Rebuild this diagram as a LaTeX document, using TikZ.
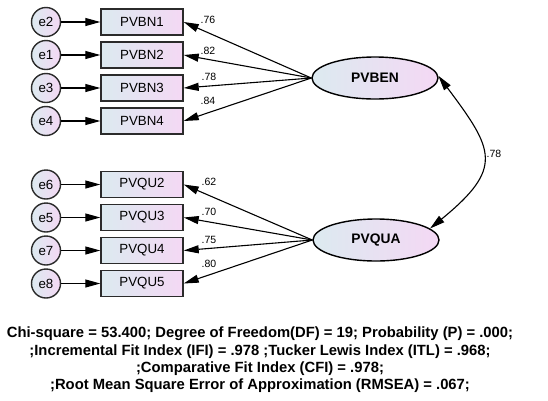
\documentclass[tikz,border=0pt]{standalone}
\usepackage{fontspec}
\setmainfont{Liberation Sans}
\usetikzlibrary{arrows.meta, shapes.geometric}
\definecolor{shadeleft}{HTML}{DCEAF0}
\definecolor{shaderight}{HTML}{F4D8F4}
\definecolor{edgegray}{HTML}{2B2B2B}

\begin{document}
\begin{tikzpicture}[x=1pt, y=-1pt, >={Triangle[length=15pt, width=8pt]}, line width=1.1pt,
  obsbox/.style={draw=edgegray, line width=1.4pt, left color=shadeleft, right color=shaderight,
    minimum width=82pt, minimum height=26pt, inner sep=0pt, font=\fontsize{13.3}{15}\selectfont},
  errcirc/.style={circle, draw=edgegray, line width=1.4pt, left color=shadeleft, right color=shaderight,
    minimum size=29pt, inner sep=0pt, font=\fontsize{13.3}{15}\selectfont},
  latent/.style={ellipse, draw=black, line width=1.4pt, left color=shadeleft, right color=shaderight,
    minimum width=126pt, minimum height=42pt, inner sep=0pt, font=\bfseries\fontsize{13.8}{15}\selectfont},
  loadlab/.style={font=\fontsize{10.5}{12}\selectfont, inner sep=0pt}]

% Canvas
\useasboundingbox (0,0) rectangle (548,400);

% Latent factors
\node[latent] (ben) at (375,78) {PVBEN};
\node[latent] (qua) at (376,240) {PVQUA};

% Indicators of PVBEN
\node[obsbox] (bn1) at (142,22) {PVBN1};
\node[obsbox] (bn2) at (142,55) {PVBN2};
\node[obsbox] (bn3) at (142,88) {PVBN3};
\node[obsbox] (bn4) at (142,121) {PVBN4};

% Indicators of PVQUA
\node[obsbox] (qu2) at (142,184.5) {PVQU2};
\node[obsbox] (qu3) at (142,217.5) {PVQU3};
\node[obsbox] (qu4) at (142,250.5) {PVQU4};
\node[obsbox] (qu5) at (142,283.5) {PVQU5};

% Error terms
\node[errcirc] (e2) at (46,22) {e2};
\node[errcirc] (e1) at (46,55) {e1};
\node[errcirc] (e3) at (46,88) {e3};
\node[errcirc] (e4) at (46,121) {e4};
\node[errcirc] (e6) at (46,184.5) {e6};
\node[errcirc] (e5) at (46,217.5) {e5};
\node[errcirc] (e7) at (46,250.5) {e7};
\node[errcirc] (e8) at (46,283.5) {e8};

% Error paths
\draw[->] (e2) -- (bn1);
\draw[->] (e1) -- (bn2);
\draw[->] (e3) -- (bn3);
\draw[->] (e4) -- (bn4);
\draw[->] (e6) -- (qu2);
\draw[->] (e5) -- (qu3);
\draw[->] (e7) -- (qu4);
\draw[->] (e8) -- (qu5);

% Factor loadings
\draw[->] (ben.west) -- (bn1.east);
\draw[->] (ben.west) -- (bn2.east);
\draw[->] (ben.west) -- (bn3.east);
\draw[->] (ben.west) -- (bn4.east);
\draw[->] (qua.west) -- (qu2.east);
\draw[->] (qua.west) -- (qu3.east);
\draw[->] (qua.west) -- (qu4.east);
\draw[->] (qua.west) -- (qu5.east);

% Loading estimates
\node[loadlab] (l76) at (208,20) {.76};
\node[loadlab] (l82) at (208,50.5) {.82};
\node[loadlab] (l78) at (209,77) {.78};
\node[loadlab] (l84) at (208,100.5) {.84};
\node[loadlab] (l62) at (209,182) {.62};
\node[loadlab] (l70) at (209,212) {.70};
\node[loadlab] (l75) at (209,240) {.75};
\node[loadlab] (l80) at (209,263.5) {.80};

% Factor covariance
\draw[<->] (ben.2) .. controls (494,150) and (504,168) .. (qua.12);
\node[loadlab] (r78) at (494,154) {.78};

% Fit indices
\node[font=\bfseries\fontsize{14.8}{17.3}\selectfont, align=center] (fitidx) at (260,360)
  {Chi-square = 53.400; Degree of Freedom(DF) = 19; Probability (P) = .000;\\
   ;Incremental Fit Index (IFI) = .978 ;Tucker Lewis Index (ITL) = .968;\\
   ;Comparative Fit Index (CFI) = .978;\\
   ;Root Mean Square Error of Approximation (RMSEA) = .067;};

\end{tikzpicture}
\end{document}
